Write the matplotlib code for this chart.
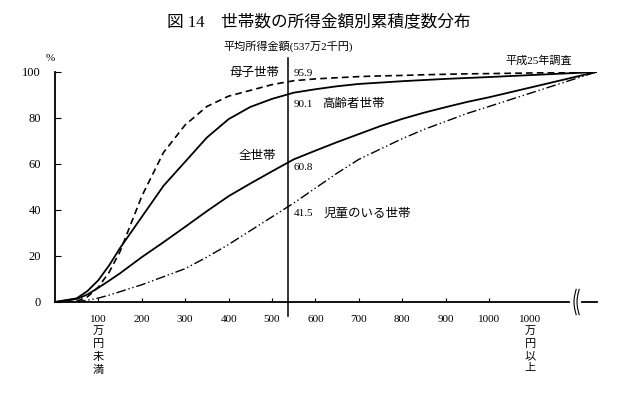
import matplotlib
matplotlib.use("Agg")
import matplotlib.pyplot as plt
import numpy as np

plt.rcParams['font.family'] = ['Liberation Serif', 'Noto Sans CJK JP']

# cumulative share of households (%) by income (万円); last point = 1000万円以上
income = [0, 50, 75, 100, 125, 150, 200, 250, 300, 350, 400, 450, 500,
          550, 600, 650, 700, 750, 800, 850, 900, 950, 1000, 1247]
all_hh = [0, 1.3, 3.3, 6.2, 9.3, 12.5, 19.5, 26, 32.7, 39.5, 46, 51.5, 56.8,
          62, 65.8, 69.5, 73, 76.5, 79.6, 82.3, 84.7, 87, 89, 100]
elderly = [0, 1.6, 4.8, 9.5, 16, 23.5, 37, 50.5, 61, 71.5, 79.5, 84.8, 88.3,
           91, 92.5, 93.8, 94.8, 95.4, 96, 96.5, 97, 97.4, 97.8, 100]
single_mother = [0, 0.3, 2.3, 6.5, 13, 22, 46, 65, 77, 85, 89.5, 92, 94.5,
                 96.2, 97, 97.5, 98, 98.3, 98.5, 98.8, 99, 99.2, 99.3, 100]
children = [0, 0.2, 0.8, 1.7, 3, 4.5, 7.5, 11, 14.5, 19.5, 25, 31, 37,
            43, 49.5, 56, 62, 66.5, 71, 75, 78.5, 82, 85, 100]

xticks = [200, 300, 400, 500, 600, 700, 800, 900, 1000]
mean_income = 537.2

fig = plt.figure(figsize=(6.37, 3.93), dpi=100)
ax = fig.add_axes([55/637, 1 - 302/393, 542/637, 230/393])
ax.set_xlim(0, 1249)
ax.set_ylim(0, 100)

ax.plot(income, all_hh, color='black', lw=1.3)
ax.plot(income, elderly, color='black', lw=1.3)
ax.plot(income, single_mother, color='black', lw=1.2, dashes=(4, 2.5))
ax.plot(income, children, color='black', lw=1.0, dashes=(7, 2, 1, 2, 1, 2))

# mean income line
ax.plot([mean_income, mean_income], [-6, 106], color='black', lw=1.1, clip_on=False)

for s in ['top', 'right']:
    ax.spines[s].set_visible(False)
ax.spines['left'].set_linewidth(1.3)
ax.spines['bottom'].set_linewidth(1.3)

ax.set_yticks([0, 20, 40, 60, 80, 100])
ax.tick_params(axis='y', direction='in', length=4, labelsize=9, pad=10)
ax.set_xticks([100] + xticks)
ax.set_xticklabels([''] + [str(v) for v in xticks])
ax.tick_params(axis='x', direction='in', length=3, labelsize=8, pad=9)

# category labels at both ends
ax.text(100, -5.5, '100\n万\n円\n未\n満', ha='center', va='top', fontsize=8,
        linespacing=1.35)
ax.text(1095, -5.5, '1000\n万\n円\n以\n上', ha='center', va='top', fontsize=8,
        linespacing=1.35)

# axis break mark
bx = 1198
ax.plot([bx - 6, bx + 10], [0, 0], color='white', lw=3, clip_on=False, zorder=5)
t = np.linspace(-5.5, 5.5, 40)
for off in (0, 7):
    ax.plot(bx + off - 5 * np.cos(t / 5.5 * np.pi / 2) + 3,
            t, color='black', lw=0.8, clip_on=False, zorder=6)

ax.text(-12, 104, '%', ha='center', va='bottom', fontsize=8)

fig.text(0.5, 1 - 22/393, '図 14　世帯数の所得金額別累積度数分布', ha='center', va='center',
         fontsize=12)
ax.text(mean_income, 108.5, '平均所得金額(537万2千円)', ha='center', va='bottom', fontsize=8)
ax.text(1115, 105, '平成25年調査', ha='center', va='center', fontsize=8)

ax.text(518, 99.5, '母子世帯', ha='right', va='center', fontsize=9)
ax.text(550, 99.5, '95.9', ha='left', va='center', fontsize=8)
ax.text(550, 86, '90.1', ha='left', va='center', fontsize=8)
ax.text(615, 86, '高齢者世帯', ha='left', va='center', fontsize=9)
ax.text(465, 63.5, '全世帯', ha='center', va='center', fontsize=9)
ax.text(550, 58.5, '60.8', ha='left', va='center', fontsize=8)
ax.text(550, 38.5, '41.5', ha='left', va='center', fontsize=8)
ax.text(620, 38.5, '児童のいる世帯', ha='left', va='center', fontsize=9)

fig.savefig('out.png', dpi=100)
